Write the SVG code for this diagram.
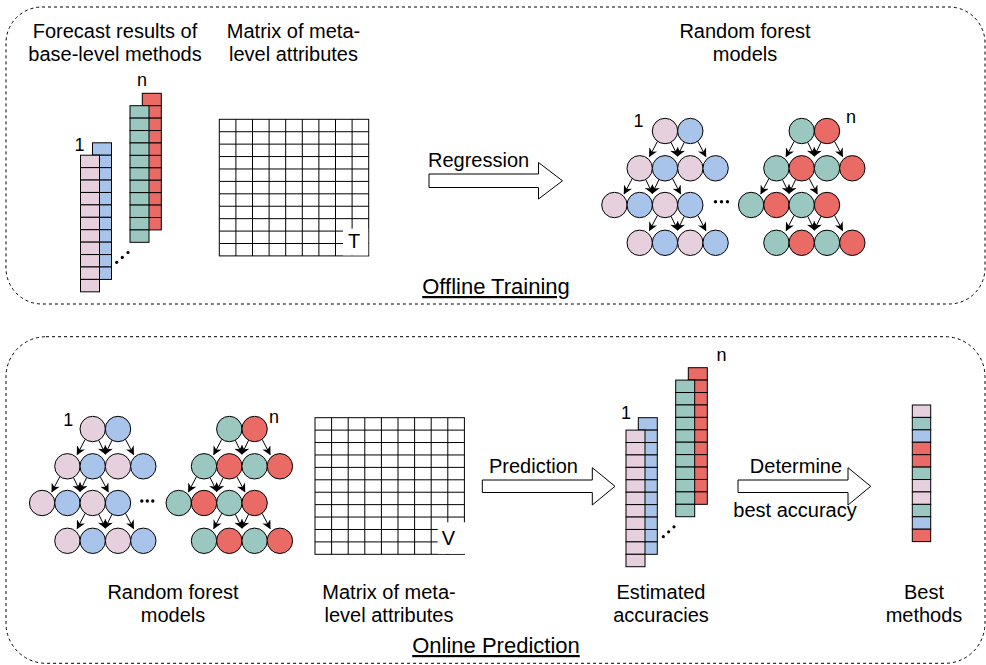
<svg xmlns="http://www.w3.org/2000/svg" xmlns:xlink="http://www.w3.org/1999/xlink" width="986" height="665" viewBox="0 0 986 665">
  <style>
    text { font-family: "Liberation Sans", Arial, Helvetica, sans-serif; font-size: 20px; fill: #000; }
    .mid { text-anchor: middle; }
    .idx { font-size: 18px; }
    .ul { text-decoration: underline; font-size: 22px; }
    .frame { fill: none; stroke: #000; stroke-width: 1; stroke-dasharray: 3 3; }
    .blk { fill: #fff; stroke: #000; stroke-width: 1; }
    .edge { fill: none; stroke: #000; stroke-width: 1; marker-end: url(#head); }
  </style>
  <defs>
    <marker id="head" viewBox="0 0 10 10" refX="9" refY="5" markerWidth="9" markerHeight="9" markerUnits="userSpaceOnUse" orient="auto">
      <path d="M0,0 L10,5 L0,10 L3,5 z" fill="#000"/>
    </marker>
    <!-- one column of 11 cells; fill comes from the <use> -->
    <g id="col" stroke="#000" stroke-width="1">
      <rect x="0" y="0" width="19" height="12.42"/>
      <rect x="0" y="12.42" width="19" height="12.42"/>
      <rect x="0" y="24.84" width="19" height="12.42"/>
      <rect x="0" y="37.26" width="19" height="12.42"/>
      <rect x="0" y="49.68" width="19" height="12.42"/>
      <rect x="0" y="62.1" width="19" height="12.42"/>
      <rect x="0" y="74.52" width="19" height="12.42"/>
      <rect x="0" y="86.94" width="19" height="12.42"/>
      <rect x="0" y="99.36" width="19" height="12.42"/>
      <rect x="0" y="111.78" width="19" height="12.42"/>
      <rect x="0" y="124.2" width="19" height="12.42"/>
    </g>
    <!-- 9 x 11 attribute matrix -->
    <g id="matrix" fill="none" stroke="#000" stroke-width="1">
      <path d="M0,12.42h149.4m-149.4,12.42h149.4m-149.4,12.42h149.4m-149.4,12.42h149.4m-149.4,12.42h149.4m-149.4,12.42h149.4m-149.4,12.42h149.4m-149.4,12.42h149.4m-149.4,12.42h149.4m-149.4,12.42h149.4"/>
      <path d="M16.6,0v136.6m16.6,-136.6v136.6m16.6,-136.6v136.6m16.6,-136.6v136.6m16.6,-136.6v136.6m16.6,-136.6v136.6m16.6,-136.6v136.6m16.6,-136.6v136.6"/>
      <rect x="0" y="0" width="149.4" height="136.6"/>
    </g>
    <!-- arrows between two parents and four children -->
    <g id="fan">
      <line class="edge" x1="-7.5" y1="10.3" x2="-15.5" y2="25.5"/>
      <line class="edge" x1="6" y1="11.2" x2="12.65" y2="25"/>
      <line class="edge" x1="19.3" y1="11.2" x2="12.65" y2="25"/>
      <line class="edge" x1="32.8" y1="10.3" x2="40.8" y2="25.5"/>
    </g>
    <!-- forest model: first colour = currentColor, second colour = inherited fill -->
    <g id="tree" stroke="#000" stroke-width="1">
      <circle cx="0" cy="0" r="12.7" fill="currentColor"/>
      <circle cx="25.3" cy="0" r="12.7"/>
      <circle cx="-25.3" cy="37.3" r="12.7" fill="currentColor"/>
      <circle cx="0" cy="37.3" r="12.7"/>
      <circle cx="25.3" cy="37.3" r="12.7" fill="currentColor"/>
      <circle cx="50.6" cy="37.3" r="12.7"/>
      <circle cx="-50.6" cy="74" r="12.7" fill="currentColor"/>
      <circle cx="-25.3" cy="74" r="12.7"/>
      <circle cx="0" cy="74" r="12.7" fill="currentColor"/>
      <circle cx="25.3" cy="74" r="12.7"/>
      <circle cx="-25.3" cy="111.8" r="12.7" fill="currentColor"/>
      <circle cx="0" cy="111.8" r="12.7"/>
      <circle cx="25.3" cy="111.8" r="12.7" fill="currentColor"/>
      <circle cx="50.6" cy="111.8" r="12.7"/>
      <use href="#fan" x="0" y="0"/>
      <use href="#fan" x="-25.3" y="37.3"/>
      <use href="#fan" x="0" y="74"/>
    </g>
  </defs>

  <!-- phase frames -->
  <g id="offline-frame">
    <rect class="frame" x="6" y="7" width="979" height="297" rx="36" ry="36"/>
    <text class="mid ul" x="496" y="294">Offline Training</text>
  </g>
  <g id="online-frame">
    <rect class="frame" x="6" y="336.7" width="979" height="326.6" rx="40" ry="40"/>
    <text class="mid ul" x="496" y="653">Online Prediction</text>
  </g>

  <!-- offline training -->
  <g id="forecast-results">
    <text class="mid" x="115" y="37.5">Forecast results of</text>
    <text class="mid" x="115" y="60.5">base-level methods</text>
    <use href="#col" x="92.5" y="142.8" fill="#A9C4EB"/>
    <use href="#col" x="80.5" y="155.2" fill="#E6D0DE"/>
    <use href="#col" x="142.3" y="93.3" fill="#EA6B66"/>
    <use href="#col" x="130" y="105.7" fill="#9AC7BF"/>
    <text class="mid idx" x="79.5" y="151">1</text>
    <text class="mid idx" x="142" y="86">n</text>
    <circle cx="116.7" cy="262.3" r="1.6"/>
    <circle cx="122.3" cy="257.4" r="1.6"/>
    <circle cx="128" cy="252.5" r="1.6"/>
  </g>

  <g id="meta-matrix-train">
    <text class="mid" x="293.5" y="37.5">Matrix of meta-</text>
    <text class="mid" x="293.5" y="60.5">level attributes</text>
    <use href="#matrix" x="219.3" y="119.3"/>
    <rect x="343" y="228.6" width="25.2" height="26.8" fill="#fff"/>
    <text class="mid" x="354" y="248">T</text>
  </g>

  <g id="regression-arrow">
    <polygon class="blk" points="429,174 538.5,174 538.5,162.5 562.5,180.8 538.5,199 538.5,187.5 429,187.5"/>
    <text x="428" y="166.5">Regression</text>
  </g>

  <g id="forest-train">
    <text class="mid" x="745" y="37.5">Random forest</text>
    <text class="mid" x="745" y="60.5">models</text>
    <use href="#tree" x="665" y="131" color="#E6D0DE" fill="#A9C4EB"/>
    <use href="#tree" x="801.7" y="131" color="#9AC7BF" fill="#EA6B66"/>
    <text class="mid idx" x="638.5" y="127">1</text>
    <text class="mid idx" x="851" y="123">n</text>
    <circle cx="715.5" cy="201.7" r="1.7"/>
    <circle cx="721.5" cy="201.7" r="1.7"/>
    <circle cx="727.5" cy="201.7" r="1.7"/>
  </g>

  <!-- online prediction -->
  <g id="forest-predict">
    <use href="#tree" x="92.7" y="429" color="#E6D0DE" fill="#A9C4EB"/>
    <use href="#tree" x="229.3" y="429" color="#9AC7BF" fill="#EA6B66"/>
    <text class="mid idx" x="68.3" y="426">1</text>
    <text class="mid idx" x="274" y="423">n</text>
    <circle cx="141.8" cy="501" r="1.7"/>
    <circle cx="147.3" cy="501" r="1.7"/>
    <circle cx="152.8" cy="501" r="1.7"/>
    <text class="mid" x="173" y="599">Random forest</text>
    <text class="mid" x="173" y="622">models</text>
  </g>

  <g id="meta-matrix-valid">
    <use href="#matrix" x="315" y="417.7"/>
    <rect x="437.7" y="522.3" width="27.5" height="31.5" fill="#fff"/>
    <text class="mid" x="448.3" y="545">V</text>
    <text class="mid" x="389" y="599">Matrix of meta-</text>
    <text class="mid" x="389" y="622">level attributes</text>
  </g>

  <g id="prediction-arrow">
    <polygon class="blk" points="482.3,480 592.3,480 592.3,467.7 615,486.3 592.3,505 592.3,492.5 482.3,492.5"/>
    <text x="489" y="473">Prediction</text>
  </g>

  <g id="estimated-accuracies">
    <use href="#col" x="638.3" y="417.7" fill="#A9C4EB"/>
    <use href="#col" x="626" y="430.1" fill="#E6D0DE"/>
    <use href="#col" x="688.3" y="367.7" fill="#EA6B66"/>
    <use href="#col" x="675.7" y="380.1" fill="#9AC7BF"/>
    <text class="mid idx" x="626" y="419">1</text>
    <text class="mid idx" x="721.5" y="361">n</text>
    <circle cx="663.3" cy="536.7" r="1.6"/>
    <circle cx="668.6" cy="531.8" r="1.6"/>
    <circle cx="674" cy="526.8" r="1.6"/>
    <text class="mid" x="661" y="599">Estimated</text>
    <text class="mid" x="661" y="622">accuracies</text>
  </g>

  <g id="determine-arrow">
    <polygon class="blk" points="738,480 848,480 848,467.7 870.7,486.3 848,505 848,492.5 738,492.5"/>
    <text class="mid" x="796" y="473">Determine</text>
    <text class="mid" x="795" y="517">best accuracy</text>
  </g>

  <g id="best-methods" stroke="#000" stroke-width="1">
    <rect x="912.3" y="405" width="18.4" height="12.42" fill="#E6D0DE"/>
    <rect x="912.3" y="417.42" width="18.4" height="12.42" fill="#9AC7BF"/>
    <rect x="912.3" y="429.84" width="18.4" height="12.42" fill="#A9C4EB"/>
    <rect x="912.3" y="442.26" width="18.4" height="12.42" fill="#EA6B66"/>
    <rect x="912.3" y="454.68" width="18.4" height="12.42" fill="#EA6B66"/>
    <rect x="912.3" y="467.1" width="18.4" height="12.42" fill="#9AC7BF"/>
    <rect x="912.3" y="479.52" width="18.4" height="12.42" fill="#E6D0DE"/>
    <rect x="912.3" y="491.94" width="18.4" height="12.42" fill="#E6D0DE"/>
    <rect x="912.3" y="504.36" width="18.4" height="12.42" fill="#9AC7BF"/>
    <rect x="912.3" y="516.78" width="18.4" height="12.42" fill="#A9C4EB"/>
    <rect x="912.3" y="529.2" width="18.4" height="12.42" fill="#EA6B66"/>
  </g>
  <g id="best-methods-label">
    <text class="mid" x="924" y="599">Best</text>
    <text class="mid" x="924" y="622">methods</text>
  </g>
</svg>
